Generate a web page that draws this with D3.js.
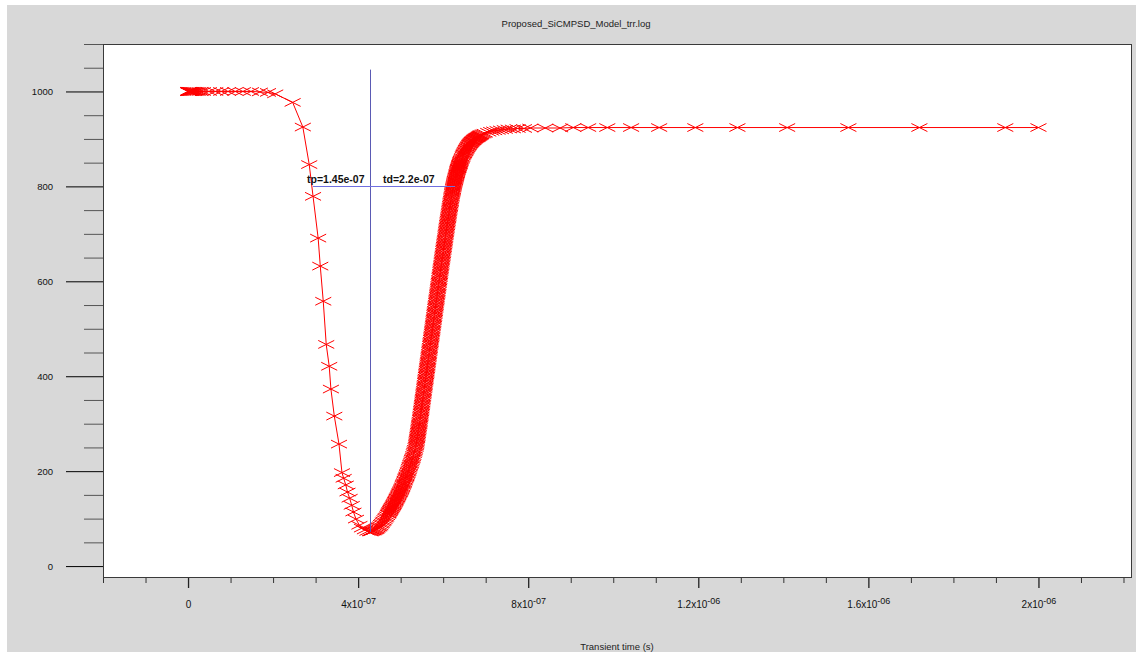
<!DOCTYPE html>
<html>
<head>
<meta charset="utf-8">
<script src="https://cdn.jsdelivr.net/npm/d3@7"></script>
<style>
  body { margin: 0; background: #fff; }
  svg { display: block; font-family: "Liberation Sans", Arial, sans-serif; }
</style>
</head>
<body>
<div id="chart"></div>
<script>
// times in ns, current values
var flatTimes = [0, 0.5, 1, 1.5, 2, 3, 4, 5, 6, 7, 8, 10, 12, 14, 17, 20, 24, 29, 35,
  49, 64, 78, 94, 111, 129, 148, 169, 188, 205];
var flatValues = [1000, 1000, 1000, 1000, 1000, 1000, 1000, 1000, 1000, 1000, 1000, 1000, 1000,
  1000, 1000, 1000, 1000, 1000, 1000, 1000, 1000, 1000, 1000, 1000, 1000, 1000, 999, 998, 995];

var fallTimes = [246, 270, 285, 294, 306, 311, 318, 325, 332, 336, 344, 355, 362, 366, 371, 375,
  380, 385, 389, 395, 403, 409, 416, 422];
var fallValues = [977, 925, 846, 779, 691, 632, 558, 467, 421, 373, 316, 257, 197, 185, 171, 156,
  143, 128, 114, 99, 86, 80, 76, 73];

var riseTimes = [428, 430, 432, 434, 436, 438, 440, 442, 444, 446, 448, 450, 452, 454, 456, 458,
  460, 462, 464, 466, 468, 470, 472, 474, 476, 478, 480, 482, 484, 486, 488, 490, 492, 494, 496,
  498, 500, 502, 504, 506, 508, 510, 512, 514, 516, 518, 520, 522, 524, 526, 528, 530, 532, 534, 536,
  537, 538, 539, 540, 541, 542, 543, 544, 545, 546, 547, 548, 549, 550, 551, 552, 553, 554, 555,
  556, 557, 558, 559, 560, 561, 562, 563, 564, 565, 566, 567, 568, 569, 570, 571, 572, 573, 574, 575,
  576, 577, 578, 579, 580, 581, 582, 583, 584, 585, 586, 587, 588, 589, 590, 591, 592, 593, 594, 595,
  596, 597, 598, 599, 600, 601, 602, 603, 604, 605, 606, 607, 608, 609, 610, 611, 612, 613, 614, 615,
  616, 617, 618, 619, 620, 621, 622, 623, 624, 625, 626, 627, 628, 629, 630, 631, 632, 633, 634, 635,
  636, 637, 638, 639, 640, 641,
  644, 647, 650, 653, 656, 659, 662, 665, 668, 671, 674, 677, 680, 683, 686, 689, 692, 695, 698,
  706, 713, 720, 728, 736, 745, 754, 764, 775, 790, 805];
var riseValues = [72, 72, 73, 74, 74, 75, 76, 77, 78, 80, 82, 83, 85, 88, 90, 93,
  95, 98, 101, 103, 106, 109, 112, 115, 118, 121, 124, 127, 130, 134, 137, 141, 144, 148, 152,
  155, 159, 163, 167, 172, 176, 181, 186, 190, 195, 200, 206, 211, 216, 222, 227, 233, 240, 246, 253,
  259, 265, 270, 276, 282, 288, 294, 299, 305, 312, 318, 325, 331, 338, 344, 351, 357, 364, 370,
  377, 383, 390, 396, 403, 409, 416, 422, 429, 435, 442, 448, 455, 461, 468, 474, 481, 487, 494, 500,
  507, 513, 520, 526, 533, 539, 546, 552, 559, 565, 572, 578, 585, 591, 598, 604, 611, 617, 624, 630,
  636, 643, 649, 655, 661, 668, 674, 680, 686, 692, 699, 705, 711, 717, 723, 729, 734, 740, 746, 752,
  757, 763, 768, 774, 779, 785, 789, 793, 798, 802, 806, 810, 813, 817, 820, 824, 827, 831, 834, 837,
  839, 842, 845, 847, 850, 853,
  859, 866, 871, 876, 881, 885, 889, 892, 895, 897, 900, 902, 903, 905, 907, 909, 910, 911, 912,
  914, 916, 917, 918, 919, 920, 921, 921, 922, 922, 923];

// the in-between time steps of the dense recovery edge
var riseExtraTimes = [471, 473, 475, 477, 479, 481, 483, 485, 487, 489, 491, 493, 495, 497, 499,
  501, 503, 505, 507, 509, 511, 513, 515, 517, 519, 521, 523, 525, 527, 529, 531, 533, 535,
  536.5, 537.5, 538.5, 539.5, 540.5, 541.5, 542.5, 543.5, 544.5, 545.5,
  546.5, 547.5, 548.5, 549.5, 550.5, 551.5, 552.5, 553.5, 554.5, 555.5,
  556.5, 557.5, 558.5, 559.5, 560.5, 561.5, 562.5, 563.5, 564.5, 565.5,
  566.5, 567.5, 568.5, 569.5, 570.5, 571.5, 572.5, 573.5, 574.5, 575.5,
  576.5, 577.5, 578.5, 579.5, 580.5, 581.5, 582.5, 583.5, 584.5, 585.5,
  586.5, 587.5, 588.5, 589.5, 590.5, 591.5, 592.5, 593.5, 594.5, 595.5,
  596.5, 597.5, 598.5, 599.5, 600.5, 601.5, 602.5, 603.5, 604.5, 605.5,
  606.5, 607.5, 608.5, 609.5, 610.5, 611.5, 612.5, 613.5, 614.5, 615.5,
  616.5, 617.5, 618.5, 619.5, 620.5, 621.5, 622.5, 623.5, 624.5, 625.5,
  626.5, 627.5, 628.5, 629.5, 630.5, 631.5, 632.5, 633.5, 634.5, 635.5,
  636.5, 637.5, 638.5, 639.5, 640.5,
  642, 643, 645, 646, 648, 649, 651, 652, 654, 655, 657, 658, 660, 661, 663, 664,
  666, 667, 669, 670, 672, 673, 675, 676, 678, 679, 681, 682, 684, 685, 687, 688];
var riseExtraValues = [110, 114, 117, 120, 123, 126, 129, 132, 136, 139, 143, 146, 150, 154, 157,
  161, 165, 170, 174, 179, 184, 188, 193, 198, 203, 209, 214, 219, 225, 230, 237, 243, 250,
  256, 262, 268, 273, 279, 285, 291, 297, 302, 309,
  315, 322, 328, 335, 341, 348, 354, 361, 367, 374,
  380, 387, 393, 400, 406, 413, 419, 426, 432, 439,
  445, 452, 458, 465, 471, 478, 484, 491, 497, 504,
  510, 517, 523, 530, 536, 543, 549, 556, 562, 569,
  575, 582, 588, 595, 601, 608, 614, 621, 627, 633,
  640, 646, 652, 658, 665, 671, 677, 683, 689, 696,
  702, 708, 714, 720, 726, 732, 737, 743, 749, 755,
  760, 766, 771, 777, 782, 787, 791, 796, 800, 804,
  808, 812, 815, 819, 822, 826, 829, 833, 836, 838,
  841, 844, 846, 849, 852,
  855, 857, 861, 864, 868, 869, 873, 874, 878, 879, 882, 884, 886, 888, 890, 891,
  893, 894, 896, 896, 898, 899, 900, 901, 902, 903, 904, 904, 906, 906, 908, 908];

var tailTimes = [840, 875, 906, 941, 986, 1042, 1108, 1193, 1292, 1409, 1553, 1720, 1922, 2000];
var tailValues = [923, 923, 924, 924, 924, 924, 924, 924, 924, 924, 924, 924, 924, 924];

var yMajorTicks = [0, 200, 400, 600, 800, 1000];
var xMajorTicks = [0, 4e-7, 8e-7, 1.2e-6, 1.6e-6, 2e-6];
var xTickMantissa = ["0", "4", "8", "1.2", "1.6", "2"];
var xTickExponent = ["", "-07", "-07", "-06", "-06", "-06"];

// annotation: tp / td markers
var peakTime = 427e-9, peakTop = 1046, peakBottom = 72;
var levelValue = 800, levelStart = 294e-9, levelEnd = 628e-9;

var W = 1136, H = 652;
var plot = {left: 103, top: 44, right: 1132, bottom: 577};

var svg = d3.select("#chart")
  .append("svg")
    .attr("width", W)
    .attr("height", H);

svg.append("rect")
  .attr("x", 7).attr("y", 5)
  .attr("width", W - 7).attr("height", H - 5)
  .attr("fill", "#d8d8d8");

svg.append("rect")
  .attr("x", plot.left).attr("y", plot.top)
  .attr("width", plot.right - plot.left).attr("height", plot.bottom - plot.top)
  .attr("fill", "#fff");

var x = d3.scaleLinear().domain([-2e-7, 2.22e-6]).range([plot.left, plot.right]);
var y = d3.scaleLinear().domain([-23, 1100]).range([plot.bottom, plot.top]);

// y axis
var yMinor = d3.range(50, 1101, 50).filter(function(v) { return v % 200 !== 0; });
svg.append("g")
  .attr("transform", "translate(" + plot.left + ",0)")
  .call(d3.axisLeft(y).tickValues(yMinor).tickSize(19).tickFormat(""))
  .call(function(g) {
    g.select(".domain").remove();
    g.selectAll("line").attr("stroke", "#555");
  });
svg.append("g")
  .attr("transform", "translate(" + plot.left + ",0)")
  .call(d3.axisLeft(y).tickValues(yMajorTicks).tickSize(37).tickPadding(13).tickFormat(d3.format("d")))
  .call(function(g) {
    g.select(".domain").remove();
    g.selectAll("line").attr("stroke", "#000");
    g.selectAll("text").attr("font-size", 9.5).attr("fill", "#111").attr("font-family", null);
  });

// x axis
var xMinor = d3.range(-2, 23, 1).map(function(k) { return k * 1e-7; })
  .filter(function(v) { return Math.abs(v * 1e7 % 4) > 0.01; });
svg.append("g")
  .attr("transform", "translate(0," + plot.bottom + ")")
  .call(d3.axisBottom(x).tickValues(xMinor).tickSize(6).tickFormat(""))
  .call(function(g) {
    g.select(".domain").remove();
    g.selectAll("line").attr("stroke", "#333");
  });
svg.append("g")
  .attr("transform", "translate(0," + plot.bottom + ")")
  .call(d3.axisBottom(x).tickValues(xMajorTicks).tickSize(11).tickPadding(13).tickFormat(""))
  .call(function(g) {
    g.select(".domain").remove();
    g.selectAll("line").attr("stroke", "#222").attr("stroke-width", 1.3);
    g.selectAll("text")
      .attr("font-size", 10).attr("fill", "#111").attr("font-family", null)
      .each(function(d, i) {
        var t = d3.select(this);
        t.append("tspan").text(xTickMantissa[i] + (xTickExponent[i] ? "x10" : ""));
        if (xTickExponent[i]) {
          t.append("tspan").attr("dy", -4).attr("font-size", 9).text(xTickExponent[i]);
        }
      });
  });

// plot frame
svg.append("rect")
  .attr("x", plot.left + 0.5).attr("y", plot.top + 0.5)
  .attr("width", plot.right - plot.left - 1).attr("height", plot.bottom - plot.top)
  .attr("fill", "none")
  .attr("stroke", "#3a3a3a");

// titles
svg.append("text")
  .attr("x", 576).attr("y", 27)
  .attr("text-anchor", "middle")
  .attr("font-size", 9.5).attr("fill", "#222")
  .text("Proposed_SiCMPSD_Model_trr.log");
svg.append("text")
  .attr("x", 617).attr("y", 650)
  .attr("text-anchor", "middle")
  .attr("font-size", 9.5).attr("fill", "#222")
  .text("Transient time (s)");

// data
var points = [];
function addSeries(times, values) {
  for (var i = 0; i < times.length; i++) points.push({t: times[i] * 1e-9, v: values[i]});
}
addSeries(flatTimes, flatValues);
addSeries(fallTimes, fallValues);
addSeries(riseTimes, riseValues);
addSeries(riseExtraTimes, riseExtraValues);
addSeries(tailTimes, tailValues);
points.sort(function(a, b) { return a.t - b.t; });

var line = d3.line()
  .x(function(d) { return x(d.t); })
  .y(function(d) { return y(d.v); });

svg.append("path")
  .datum(points)
  .attr("d", line)
  .attr("fill", "none")
  .attr("stroke", "#f00")
  .attr("stroke-width", 1);

svg.selectAll("path.marker")
  .data(points)
  .enter()
  .append("path")
    .attr("class", "marker")
    .attr("transform", function(d) { return "translate(" + x(d.t) + "," + y(d.v) + ")"; })
    .attr("d", "M-8,-4L8,4M-8,4L8,-4")
    .attr("fill", "none")
    .attr("stroke", "#f00")
    .attr("stroke-width", 1);

// tp / td annotation
svg.append("line")
  .attr("x1", Math.round(x(peakTime)) + 0.5).attr("x2", Math.round(x(peakTime)) + 0.5)
  .attr("y1", y(peakTop)).attr("y2", y(peakBottom))
  .attr("stroke", "#5a5ab4").attr("stroke-width", 1);
svg.append("line")
  .attr("x1", x(levelStart)).attr("x2", x(levelEnd))
  .attr("y1", Math.round(y(levelValue)) + 0.5).attr("y2", Math.round(y(levelValue)) + 0.5)
  .attr("stroke", "#6f6fe0").attr("stroke-width", 1);

svg.append("text")
  .attr("x", 307).attr("y", 183)
  .attr("font-size", 10.5).attr("font-weight", "bold").attr("fill", "#111")
  .text("tp=1.45e-07");
svg.append("text")
  .attr("x", 383).attr("y", 183)
  .attr("font-size", 10.5).attr("font-weight", "bold").attr("fill", "#111")
  .text("td=2.2e-07");
</script>
</body>
</html>
